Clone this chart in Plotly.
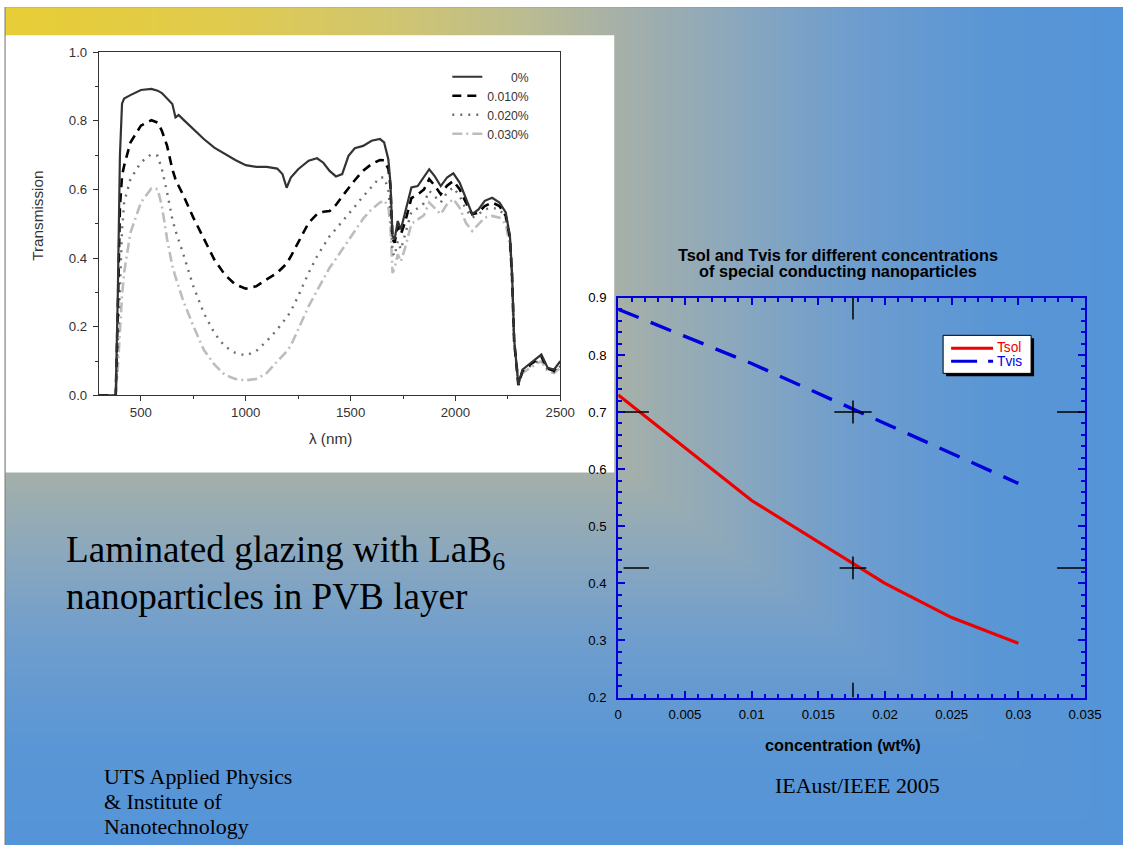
import numpy as np
import plotly.graph_objects as go

# The captured page comes out scaled by S and shifted by (OX, OY); all positions
# below are given in final picture pixels and mapped back to figure pixels.
S = 0.982
OX, OY = 3.5, 6.8
PIC_W, PIC_H = 1123, 845
W = int(round((PIC_W - OX) / S)) + 1
H = int(round((PIC_H - OY) / S)) + 1

# ---------------- data: transmission spectra (left chart) ----------------
wavelength_nm = [300, 370, 380, 390, 400, 410, 420, 450, 500, 550, 580, 600, 625, 650, 665, 680,
                 700, 750, 800, 850, 900, 950, 1000, 1050, 1100, 1150, 1175, 1195, 1215, 1250,
                 1300, 1340, 1370, 1400, 1430, 1460, 1490, 1520, 1560, 1600, 1640, 1660, 1680,
                 1690, 1700, 1710, 1725, 1740, 1760, 1790, 1820, 1850, 1875, 1900, 1930, 1960,
                 1990, 2020, 2050, 2080, 2110, 2140, 2175, 2210, 2240, 2260, 2270, 2280, 2300,
                 2320, 2350, 2380, 2410, 2440, 2470, 2500]

trans_0pct = [0, 0, 0.0, 0.30, 0.70, 0.85, 0.865, 0.875, 0.89, 0.893, 0.888, 0.881, 0.866, 0.849,
              0.81, 0.817, 0.805, 0.776, 0.747, 0.722, 0.703, 0.686, 0.671, 0.666, 0.666, 0.661,
              0.645, 0.605, 0.635, 0.659, 0.684, 0.691, 0.678, 0.654, 0.638, 0.645, 0.698, 0.72,
              0.727, 0.742, 0.747, 0.737, 0.688, 0.62, 0.464, 0.455, 0.508, 0.484, 0.533, 0.606,
              0.61, 0.635, 0.659, 0.64, 0.61, 0.635, 0.647, 0.62, 0.576, 0.528, 0.542, 0.567,
              0.576, 0.562, 0.533, 0.464, 0.357, 0.163, 0.031, 0.075, 0.09, 0.104, 0.119, 0.08,
              0.075, 0.10]

trans_010pct = [0, 0, 0.0, 0.25, 0.55, 0.64, 0.669, 0.737, 0.786, 0.802, 0.795, 0.771, 0.727, 0.659,
                0.63, 0.61, 0.586, 0.518, 0.455, 0.396, 0.352, 0.323, 0.311, 0.318, 0.338, 0.357,
                0.372, 0.384, 0.405, 0.445, 0.503, 0.528, 0.535, 0.537, 0.555, 0.58, 0.605, 0.627,
                0.655, 0.674, 0.686, 0.685, 0.66, 0.611, 0.455, 0.445, 0.493, 0.47, 0.505, 0.575,
                0.585, 0.60, 0.63, 0.612, 0.586, 0.611, 0.625, 0.601, 0.562, 0.528, 0.533, 0.552,
                0.562, 0.552, 0.523, 0.46, 0.35, 0.16, 0.03, 0.072, 0.087, 0.10, 0.113, 0.078,
                0.072, 0.095]

trans_020pct = [0, 0, 0.0, 0.15, 0.35, 0.48, 0.562, 0.63, 0.679, 0.703, 0.698, 0.659, 0.591, 0.513,
                0.48, 0.45, 0.416, 0.318, 0.24, 0.182, 0.143, 0.124, 0.116, 0.129, 0.158, 0.192,
                0.21, 0.227, 0.245, 0.289, 0.357, 0.405, 0.435, 0.464, 0.485, 0.506, 0.526, 0.55,
                0.58, 0.606, 0.635, 0.635, 0.60, 0.533, 0.416, 0.406, 0.45, 0.425, 0.47, 0.535,
                0.545, 0.56, 0.596, 0.581, 0.562, 0.591, 0.606, 0.581, 0.542, 0.518, 0.528, 0.542,
                0.547, 0.542, 0.518, 0.455, 0.345, 0.155, 0.04, 0.07, 0.083, 0.095, 0.105, 0.075,
                0.068, 0.085]

trans_030pct = [0, 0, 0.0, 0.08, 0.20, 0.29, 0.357, 0.474, 0.562, 0.603, 0.601, 0.552, 0.455, 0.377,
                0.345, 0.315, 0.279, 0.202, 0.133, 0.09, 0.06, 0.048, 0.044, 0.048, 0.065, 0.099,
                0.115, 0.128, 0.145, 0.192, 0.26, 0.305, 0.34, 0.372, 0.398, 0.425, 0.455, 0.48,
                0.515, 0.542, 0.562, 0.568, 0.55, 0.494, 0.357, 0.37, 0.411, 0.39, 0.43, 0.50,
                0.512, 0.525, 0.562, 0.547, 0.528, 0.557, 0.572, 0.547, 0.503, 0.479, 0.499, 0.518,
                0.523, 0.518, 0.499, 0.435, 0.33, 0.15, 0.045, 0.065, 0.078, 0.09, 0.10, 0.07,
                0.065, 0.08]

spectrum_labels = ["0%", "0.010%", "0.020%", "0.030%"]

# ---------------- data: Tsol / Tvis vs concentration (right chart) ----------------
conc_sol = [0, 0.01, 0.02, 0.025, 0.03]
tsol = [0.73, 0.545, 0.40, 0.34, 0.295]
conc_vis = [0, 0.01, 0.02, 0.03]
tvis = [0.88, 0.785, 0.68, 0.575]
right_labels = ["Tsol", "Tvis"]

cursor_conc = 0.0176
cursor_levels = [0.700, 0.427]


def px(x):
    """picture pixel x -> paper fraction"""
    return ((x - OX) / S) / W


def py(y):
    """picture pixel y (top-down) -> paper fraction"""
    return 1 - ((y - OY) / S) / H


def fs(size):
    """font size giving `size` px in the final picture"""
    return size / S


SANS = "Liberation Sans, Arial, sans-serif"
SERIF = "Liberation Serif, Times New Roman, serif"
RED = "#ee0000"
BLUE = "#0000dd"

X_LO, X_HI = OX, OX + S * W
Y_LO, Y_HI = OY, OY + S * H

fig = go.Figure()

# ---------------- slide background (corner gradient) ----------------
gx = np.linspace(X_LO, X_HI, 114)
gy = np.linspace(Y_LO, Y_HI, 86)
Z = np.maximum(gx[None, :] / PIC_W, gy[:, None] / PIC_H)
bg_scale = [
    [0.00, "rgb(232,205,52)"],
    [0.20, "rgb(224,203,78)"],
    [0.35, "rgb(208,197,112)"],
    [0.45, "rgb(190,190,140)"],
    [0.55, "rgb(166,176,168)"],
    [0.65, "rgb(140,168,188)"],
    [0.75, "rgb(112,158,205)"],
    [0.88, "rgb(90,150,213)"],
    [1.00, "rgb(84,148,216)"],
]
fig.add_trace(go.Heatmap(x=gx, y=gy, z=Z, zmin=0, zmax=1, colorscale=bg_scale,
                         zsmooth="best", showscale=False, hoverinfo="skip",
                         xaxis="x", yaxis="y"))
# white panel behind the spectrum chart
fig.add_trace(go.Scatter(x=[5, 614, 614, 5], y=[35, 35, 472, 472], fill="toself",
                         fillcolor="white", mode="none", hoverinfo="skip",
                         showlegend=False, xaxis="x", yaxis="y"))

# ---------------- left chart traces ----------------
spec_series = [trans_0pct, trans_010pct, trans_020pct, trans_030pct]
spec_styles = [
    dict(color="#333333", width=2.2, dash="solid"),
    dict(color="#000000", width=2.6, dash="9px,6px"),
    dict(color="#6e6e6e", width=2.4, dash="2px,6px"),
    dict(color="#bdbdbd", width=2.6, dash="10px,4px,2px,4px"),
]
pad = ["\u00a0" * 7, "", "", ""]
for i in [3, 2, 1, 0]:
    fig.add_trace(go.Scatter(x=wavelength_nm, y=spec_series[i], mode="lines",
                             name=pad[i] + spectrum_labels[i], line=spec_styles[i],
                             legend="legend", legendrank=i + 1,
                             xaxis="x2", yaxis="y2"))

# ---------------- right chart traces ----------------
fig.add_trace(go.Scatter(x=conc_sol, y=tsol, mode="lines", name=right_labels[0],
                         line=dict(color=RED, width=3.2), showlegend=False,
                         xaxis="x3", yaxis="y3"))
fig.add_trace(go.Scatter(x=conc_vis, y=tvis, mode="lines", name=right_labels[1],
                         line=dict(color=BLUE, width=3.4, dash="22px,13px"),
                         showlegend=False, xaxis="x3", yaxis="y3"))

# ---------------- shapes ----------------
shapes = []
# white margin + slide border
shapes.append(dict(type="rect", xref="x", yref="y", x0=X_LO, x1=X_HI, y0=Y_LO, y1=6.5,
                   fillcolor="white", line=dict(width=0), layer="above"))
shapes.append(dict(type="rect", xref="x", yref="y", x0=X_LO, x1=4.5, y0=Y_LO, y1=Y_HI,
                   fillcolor="white", line=dict(width=0), layer="above"))
shapes.append(dict(type="line", xref="x", yref="y", x0=4.5, x1=X_HI, y0=6.5, y1=6.5,
                   line=dict(color="#7a7a7a", width=1), layer="above"))
shapes.append(dict(type="line", xref="x", yref="y", x0=4.5, x1=4.5, y0=6.5, y1=Y_HI,
                   line=dict(color="#7a7a7a", width=1), layer="above"))

# legend box of the right chart (shadow, frame, line samples)
shapes.append(dict(type="rect", xref="x", yref="y", x0=946, x1=1034, y0=338, y1=376,
                   fillcolor="black", line=dict(width=0), layer="above"))
shapes.append(dict(type="rect", xref="x", yref="y", x0=943, x1=1031, y0=335, y1=373,
                   fillcolor="white", line=dict(color="black", width=1), layer="above"))
shapes.append(dict(type="line", xref="x", yref="y", x0=951, x1=993, y0=348, y1=348,
                   line=dict(color=RED, width=3), layer="above"))
shapes.append(dict(type="line", xref="x", yref="y", x0=951, x1=993, y0=361, y1=361,
                   line=dict(color=BLUE, width=3, dash="26px,11px"), layer="above"))

# cursor marks on right chart
cl = dict(color="black", width=1.5)
shapes.append(dict(type="line", xref="x3", yref="y3", x0=cursor_conc, x1=cursor_conc,
                   y0=0.9, y1=0.862, line=cl, layer="above"))
shapes.append(dict(type="line", xref="x3", yref="y3", x0=cursor_conc, x1=cursor_conc,
                   y0=0.2, y1=0.226, line=cl, layer="above"))
for lev, half in zip(cursor_levels, [0.0014, 0.001]):
    shapes.append(dict(type="line", xref="x3", yref="y3", x0=cursor_conc - half,
                       x1=cursor_conc + half, y0=lev, y1=lev, line=cl, layer="above"))
    shapes.append(dict(type="line", xref="x3", yref="y3", x0=cursor_conc, x1=cursor_conc,
                       y0=lev - 0.02, y1=lev + 0.02, line=cl, layer="above"))
    shapes.append(dict(type="line", xref="x3", yref="y3", x0=0.0004, x1=0.0023,
                       y0=lev, y1=lev, line=cl, layer="above"))
    shapes.append(dict(type="line", xref="x3", yref="y3", x0=0.0329, x1=0.035,
                       y0=lev, y1=lev, line=cl, layer="above"))

# ---------------- annotations ----------------
ann = []


def text(x, y, s, size, family=SANS, color="black", angle=0, xanchor="center"):
    ann.append(dict(xref="x", yref="y", x=x, y=y, text=s, showarrow=False,
                    font=dict(family=family, size=fs(size), color=color), textangle=angle,
                    xanchor=xanchor, yanchor="middle"))


text(37, 215, "Transmission", 15, color="#333333", angle=-90)
text(330, 438, "\u03bb (nm)", 15, color="#333333")
text(838, 255, "<b>Tsol and Tvis for different concentrations</b>", 16)
text(838, 271, "<b>of special conducting nanoparticles</b>", 16)
text(843, 744, "<b>concentration (wt%)</b>", 16)
text(995, 347, right_labels[0], 13.5, color=RED, xanchor="left")
text(995, 361, right_labels[1], 13.5, color=BLUE, xanchor="left")
text(64, 552, "Laminated glazing with LaB<sub>6</sub>", 36.5, family=SERIF, xanchor="left")
text(64, 596, "nanoparticles in PVB layer", 36.5, family=SERIF, xanchor="left")
text(102, 776, "UTS Applied Physics", 21.5, family=SERIF, xanchor="left")
text(102, 801, "&amp; Institute of", 21.5, family=SERIF, xanchor="left")
text(102, 826, "Nanotechnology", 21.5, family=SERIF, xanchor="left")
text(857, 785, "IEAust/IEEE 2005", 21.5, family=SERIF)

left_axis_common = dict(showline=True, linecolor="#333333", linewidth=1.2, mirror=True,
                        ticks="outside", ticklen=5, tickcolor="#333333", tickwidth=1,
                        showgrid=False, zeroline=False,
                        tickfont=dict(family=SANS, size=fs(13), color="#333333"))
right_axis_common = dict(showline=True, linecolor=BLUE, linewidth=2, mirror="allticks",
                         ticks="inside", ticklen=7, tickcolor=BLUE, tickwidth=1.5,
                         showgrid=False, zeroline=False,
                         tickfont=dict(family=SANS, size=fs(13), color="black"))

fig.update_layout(
    width=W, height=H, margin=dict(l=0, r=0, t=0, b=0),
    paper_bgcolor="white", plot_bgcolor="rgba(0,0,0,0)",
    showlegend=True,
    xaxis=dict(domain=[0, 1], range=[X_LO, X_HI], visible=False, fixedrange=True),
    yaxis=dict(domain=[0, 1], range=[Y_HI, Y_LO], visible=False, fixedrange=True),
    xaxis2=dict(domain=[px(98.5), px(560)], anchor="y2", range=[300, 2500],
                tick0=0, dtick=500,
                minor=dict(ticks="outside", ticklen=3, tick0=250, dtick=250,
                           tickcolor="#333333", showgrid=False),
                **left_axis_common),
    yaxis2=dict(domain=[py(395), py(52)], anchor="x2", range=[0, 1],
                tick0=0, dtick=0.2, tickformat=".1f", ticklabelstandoff=3,
                minor=dict(ticks="outside", ticklen=3, tick0=0, dtick=0.1,
                           tickcolor="#333333", showgrid=False),
                **left_axis_common),
    xaxis3=dict(domain=[px(618), px(1085)], anchor="y3", range=[0, 0.035],
                tick0=0, dtick=0.005, ticklabelstandoff=4,
                minor=dict(ticks="inside", ticklen=4, tick0=0, dtick=0.001,
                           tickcolor=BLUE, tickwidth=1.5, showgrid=False),
                **right_axis_common),
    yaxis3=dict(domain=[py(697), py(297.5)], anchor="x3", range=[0.2, 0.9],
                tick0=0, dtick=0.1, tickformat=".1f", ticklabelstandoff=7,
                minor=dict(ticks="inside", ticklen=4, tick0=0, dtick=0.02,
                           tickcolor=BLUE, tickwidth=1.5, showgrid=False),
                **right_axis_common),
    legend=dict(x=px(447), y=py(62), xanchor="left", yanchor="top",
                bgcolor="rgba(0,0,0,0)", borderwidth=0,
                font=dict(family=SANS, size=fs(12), color="#333333"), tracegroupgap=0),
    shapes=shapes,
    annotations=ann,
)

fig.write_html("out.html")
